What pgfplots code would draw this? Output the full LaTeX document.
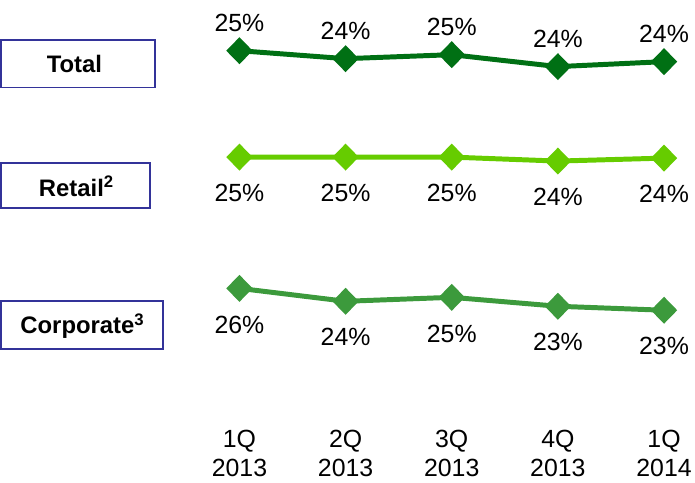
\documentclass[border=0pt]{standalone}
\usepackage{pgfplots}
\pgfplotsset{compat=1.18}
\usepackage{fontspec}
\setmainfont{Liberation Sans}
\definecolor{totalc}{RGB}{0,112,20}
\definecolor{retailc}{RGB}{102,204,0}
\definecolor{corpc}{RGB}{60,154,60}
\definecolor{boxc}{RGB}{51,51,153}
\pgfplotsset{
  panel/.style={
    scale only axis, hide axis, clip=false,
    width=427pt, xmin=0, xmax=4,
    point meta=explicit symbolic,
    nodes near coords={\pgfplotspointmeta\%},
    every node near coord/.append style={font=\fontsize{25}{28}\selectfont, text=black, inner sep=0pt},
  },
  ser/.style={line width=5pt, mark=diamond*, mark size=10pt, mark options={solid, xscale=1.3}},
}
\begin{document}
\begin{tikzpicture}
\path (0pt,0pt) rectangle (695pt,485pt);
% Total panel
\begin{axis}[panel, ymin=23, ymax=26, height=30pt, at={(238pt,411pt)}, anchor=south west,
  every node near coord/.append style={anchor=south, yshift=17pt}]
\addplot[ser, color=totalc] coordinates {(0,25.3)[25] (1,24.5)[24] (2,24.9)[25] (3,23.7)[24] (4,24.2)[24]};
\end{axis}
% Retail panel
\begin{axis}[panel, ymin=24, ymax=25.5, height=15pt, at={(238pt,318pt)}, anchor=south west,
  every node near coord/.append style={anchor=north, yshift=-25pt}]
\addplot[ser, color=retailc] coordinates {(0,24.9)[25] (1,24.9)[25] (2,24.9)[25] (3,24.5)[24] (4,24.8)[24]};
\end{axis}
% Corporate panel
\begin{axis}[panel, ymin=23, ymax=27, height=40pt, at={(238pt,165pt)}, anchor=south west,
  every node near coord/.append style={anchor=north, yshift=-25pt}]
\addplot[ser, color=corpc] coordinates {(0,26.0)[26] (1,24.7)[24] (2,25.1)[25] (3,24.2)[23] (4,23.8)[23]};
\end{axis}
% category labels
\begin{axis}[scale only axis, hide axis, clip=false, width=427pt, height=10pt, xmin=0, xmax=4, ymin=0, ymax=1,
  at={(238pt,0pt)}, anchor=south west]
\addplot[draw=none, point meta=explicit symbolic,
  nodes near coords={\pgfplotspointmeta},
  every node near coord/.append style={font=\fontsize{25}{30}\selectfont, align=center, anchor=center, text=black}]
  coordinates {(0,2.9)[1Q\\2013] (1,2.9)[2Q\\2013] (2,2.9)[3Q\\2013] (3,2.9)[4Q\\2013] (4,2.9)[1Q\\2014]};
\end{axis}
% boxes
\draw[boxc, line width=1.6pt] (-2pt,445pt) rectangle (153pt,397pt);
\node[font=\fontsize{24}{26}\selectfont\bfseries] at (72pt,421pt) {Total};
\draw[boxc, line width=1.6pt] (-2pt,321pt) rectangle (148pt,276pt);
\node[font=\fontsize{24}{26}\selectfont\bfseries] at (74pt,298pt) {Retail\textsuperscript{2}};
\draw[boxc, line width=1.6pt] (-2pt,182pt) rectangle (161pt,134pt);
\node[font=\fontsize{24}{26}\selectfont\bfseries] at (80pt,157pt) {Corporate\textsuperscript{3}};
\end{tikzpicture}
\end{document}
